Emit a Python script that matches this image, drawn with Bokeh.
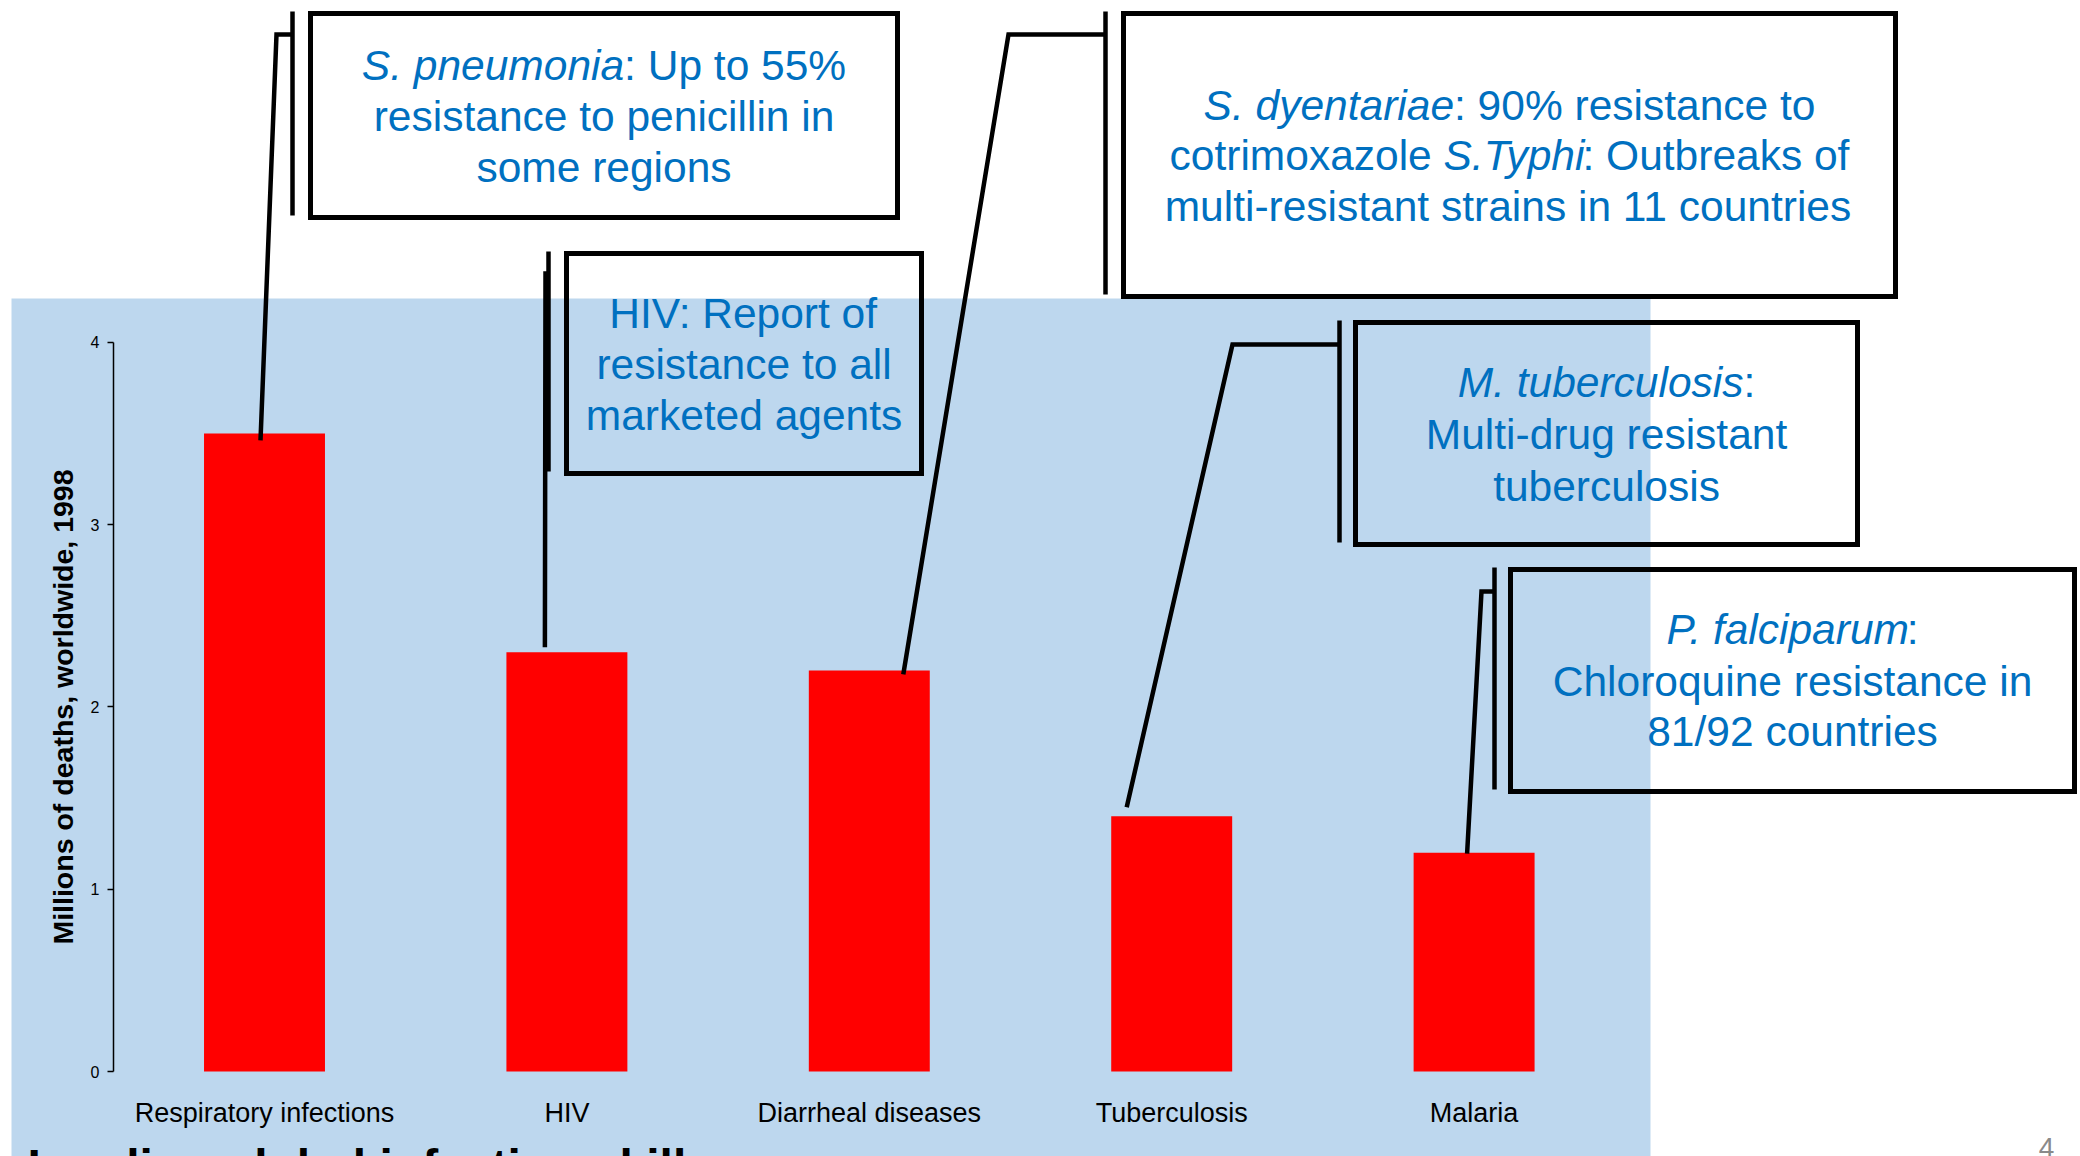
import numpy as np
from bokeh.plotting import figure
from bokeh.models import Range1d, LinearAxis, FixedTicker
from bokeh.core.properties import value
from bokeh.embed import file_html
from bokeh.resources import INLINE

# ---- data -------------------------------------------------------------
categories = ["Respiratory infections", "HIV", "Diarrheal diseases",
              "Tuberculosis", "Malaria"]
deaths = [3.5, 2.3, 2.2, 1.4, 1.2]          # millions of deaths, 1998
y_ticks = [0, 1, 2, 3, 4]
y_title = "Millions of deaths, worldwide, 1998"

# resistance notes, one per disease: list of lines, each a list of
# (text, italic) runs
notes = [
    [[("S. pneumonia", True), (": Up to 55%", False)],
     [("resistance to penicillin in", False)],
     [("some regions", False)]],
    [[("HIV: Report of", False)],
     [("resistance to all", False)],
     [("marketed agents", False)]],
    [[("S. dyentariae", True), (": 90% resistance to", False)],
     [("cotrimoxazole ", False), ("S.Typhi", True), (": Outbreaks of", False)],
     [("multi-resistant strains in 11 countries", False)]],
    [[("M. tuberculosis", True), (":", False)],
     [("Multi-drug resistant", False)],
     [("tuberculosis", False)]],
    [[("P. falciparum", True), (":", False)],
     [("Chloroquine resistance in", False)],
     [("81/92 countries", False)]],
]
slide_title = "Leading global infectious killers"
page_number = "4"

# ---- page geometry ----------------------------------------------------
W, H = 2080, 1156
FONT = "Liberation Sans"
NOTE_BLUE = "#0070C0"
PANEL_BLUE = "#BDD7EE"

cat_x0, cat_step = 264.0, 302.4      # pixel centre of first bar, bar pitch
zero_y, unit_y = 1071.0, 182.3       # pixel of value 0, pixels per million

x_range = Range1d(-cat_x0 / cat_step, (W - cat_x0) / cat_step)
y_range = Range1d(-(H - zero_y) / unit_y, zero_y / unit_y)

p = figure(width=W, height=H, x_range=x_range, y_range=y_range,
           output_backend="svg", toolbar_location=None,
           x_axis_location=None, y_axis_location=None, min_border=0)
p.outline_line_color = None
p.background_fill_color = "white"
p.border_fill_color = "white"
p.grid.visible = False
# page (pixel) coordinates for the slide decorations
p.extra_x_ranges = {"px": Range1d(0, W)}
p.extra_y_ranges = {"px": Range1d(H, 0)}
PX = dict(x_range_name="px", y_range_name="px")


def px_x(x):
    return (x - x_range.start) / (x_range.end - x_range.start) * W


def px_y(v):
    return H - (v - y_range.start) / (y_range.end - y_range.start) * H


# light-blue chart panel
p.quad(left=[11], right=[1650], top=[298], bottom=[H],
       fill_color=PANEL_BLUE, line_color=None, **PX)

# bars
xs = np.arange(len(categories))
p.vbar(x=xs, top=deaths, bottom=0, width=0.4,
       fill_color="#FF0000", line_color=None)

# y axis drawn at the left of the bar area
yaxis = LinearAxis(fixed_location=-0.5, bounds=(0, 4),
                   ticker=FixedTicker(ticks=y_ticks, minor_ticks=[]))
yaxis.axis_label = y_title
yaxis.axis_label_text_font = FONT
yaxis.axis_label_text_font_style = "bold"
yaxis.axis_label_text_font_size = "28.5px"
yaxis.axis_label_text_color = "black"
yaxis.axis_label_standoff = 9
yaxis.major_label_text_font = FONT
yaxis.major_label_text_font_size = "16px"
yaxis.major_label_text_color = "black"
yaxis.major_label_standoff = 8
yaxis.major_tick_out = 6
yaxis.major_tick_in = 0
yaxis.minor_tick_out = 0
yaxis.minor_tick_in = 0
yaxis.axis_line_width = 1.5
yaxis.major_tick_line_width = 1.5
p.add_layout(yaxis, "left")

# category axis under the bars
xaxis = LinearAxis(fixed_location=0,
                   ticker=FixedTicker(ticks=list(xs), minor_ticks=[]))
xaxis.major_label_overrides = {int(i): c for i, c in zip(xs, categories)}
xaxis.major_label_text_font = FONT
xaxis.major_label_text_font_size = "27px"
xaxis.major_label_text_color = "black"
xaxis.major_label_standoff = 20
xaxis.axis_line_color = None
xaxis.major_tick_line_color = None
xaxis.minor_tick_line_color = None
p.add_layout(xaxis, "below")

# ---- callouts ---------------------------------------------------------
# box (left, top, right, bottom), accent bar x, elbow points, tip offset
# from the bar top (dx, dy in px), text baselines
callouts = [
    dict(box=(310, 13, 897, 217), accent=292, elbow=[(292, 34), (276, 34)],
         tip=(-4, 7), base=[65, 116, 167]),
    dict(box=(566, 253, 921, 473), accent=548, elbow=[(548, 273), (545, 273)],
         tip=(-22, -5), base=[313, 364, 415]),
    dict(box=(1123, 13, 1895, 296), accent=1105, elbow=[(1105, 34), (1008, 34)],
         tip=(34, 4), base=[105, 155, 206]),
    dict(box=(1355, 322, 1857, 544), accent=1339, elbow=[(1339, 344), (1232, 344)],
         tip=(-45, -9), base=[382, 434, 486]),
    dict(box=(1510, 569, 2074, 791), accent=1494, elbow=[(1494, 591), (1481, 591)],
         tip=(-7, 1), base=[629, 681, 731]),
]

# Arial / Liberation Sans advance widths and kerning pairs (1/1000 em)
ADV = {" ": 278, ".": 278, ":": 278, "%": 889, "-": 333, "/": 278,
       "S": 667, "U": 722, "T": 611, "O": 778, "M": 833, "P": 667,
       "H": 722, "I": 278, "V": 667, "R": 722, "C": 722,
       "a": 556, "b": 556, "c": 500, "d": 556, "e": 556, "f": 278,
       "g": 556, "h": 556, "i": 222, "k": 500, "l": 222, "m": 833,
       "n": 556, "o": 556, "p": 556, "q": 556, "r": 333, "s": 500,
       "t": 278, "u": 556, "x": 500, "y": 500, "z": 500}
for d in "0123456789":
    ADV[d] = 556
KERN = {("P", "."): -180, ("T", "y"): -120}
NOTE_SIZE = 42.5


def run_width(s):
    w = sum(ADV.get(ch, 556) for ch in s)
    w += sum(KERN.get(pair, 0) for pair in zip(s, s[1:]))
    return w * NOTE_SIZE / 1000.0


reg = dict(x=[], y=[], text=[])
ita = dict(x=[], y=[], text=[])
for i, (c, lines) in enumerate(zip(callouts, notes)):
    l, t, r, b = c["box"]
    p.quad(left=[l], right=[r], top=[t], bottom=[b], fill_color=None,
           line_color="black", line_width=5, line_join="miter", **PX)
    p.segment(x0=[c["accent"]], y0=[t - 2], x1=[c["accent"]], y1=[b - 2],
              line_color="black", line_width=4.5, **PX)
    tip_x = px_x(xs[i]) + c["tip"][0]
    tip_y = px_y(deaths[i]) + c["tip"][1]
    pts = c["elbow"] + [(tip_x, tip_y)]
    p.line(x=[q[0] for q in pts], y=[q[1] for q in pts], line_color="black",
           line_width=4.5, line_join="miter", **PX)
    cx = (l + r) / 2.0
    for runs, base in zip(lines, c["base"]):
        total = sum(run_width(s) for s, _ in runs)
        x = cx - total / 2.0
        for s, italic in runs:
            dest = ita if italic else reg
            dest["x"].append(x)
            dest["y"].append(base)
            dest["text"].append(s)
            x += run_width(s)

for src, style in ((reg, "normal"), (ita, "italic")):
    p.text(x="x", y="y", text="text", source=src,
           text_font=value(FONT), text_font_size=f"{NOTE_SIZE}px",
           text_font_style=style, text_color=NOTE_BLUE,
           text_align="left", text_baseline="alphabetic", **PX)

# slide title running off the bottom edge, and page number
p.text(x=[27], y=[1166], text=[slide_title], text_font=value(FONT),
       text_font_size="48px", text_font_style="bold", text_color="black",
       text_align="left", text_baseline="alphabetic", **PX)
p.text(x=[2046], y=[1147], text=[page_number], text_font=value(FONT),
       text_font_size="28px", text_color="#8A8A8A",
       text_align="center", text_baseline="alphabetic", **PX)

open("out.html", "w").write(file_html(p, INLINE))
